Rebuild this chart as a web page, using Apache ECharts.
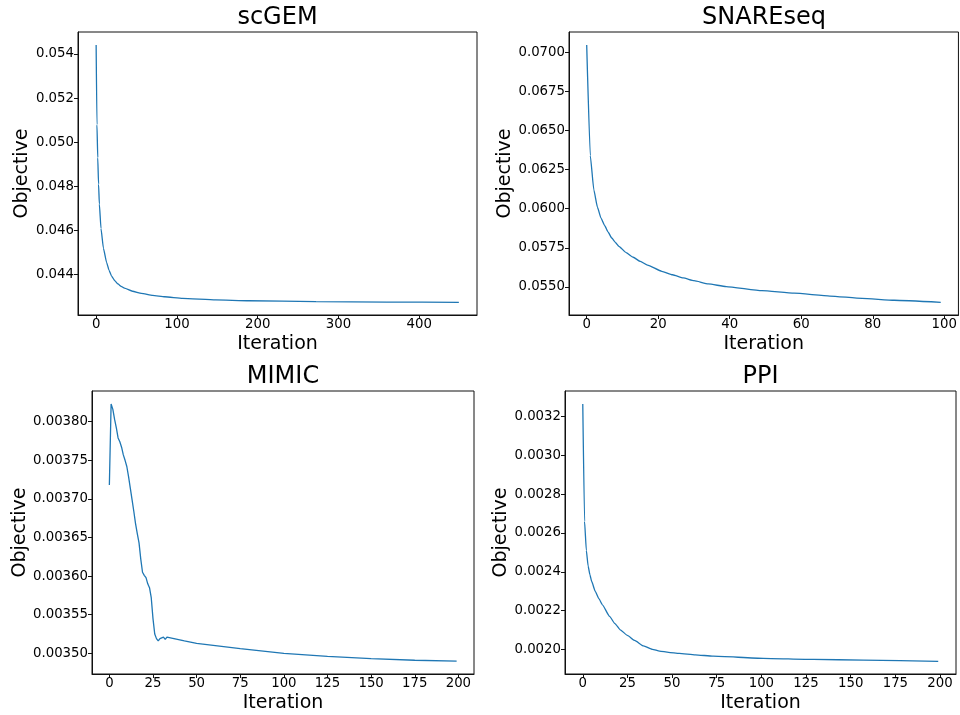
<!DOCTYPE html>
<html>
<head>
<meta charset="utf-8">
<script src="https://cdn.jsdelivr.net/npm/echarts@6/dist/echarts.min.js"></script>
<style>html,body{margin:0;padding:0;background:#fff}#c{width:960px;height:715px}</style>
</head>
<body>
<div id="c"></div>
<script>
// ---- data ----
const titles = ['scGEM', 'SNAREseq', 'MIMIC', 'PPI'];
const xName = 'Iteration';
const yName = 'Objective';

const scgemIter = [0, 1, 2, 3, 4, 6, 9, 13, 16, 19, 23, 27, 31, 35, 45, 56, 70, 85, 107, 148, 189, 272, 360, 449];
const scgemObj  = [0.05441, 0.0508, 0.0493, 0.0481, 0.0472, 0.0461, 0.0452, 0.04455, 0.04420, 0.04395, 0.04373,
                   0.04358, 0.04347, 0.04339, 0.04325, 0.04315, 0.04306, 0.04300, 0.04293, 0.04286, 0.04282,
                   0.04278, 0.04276, 0.04275];

const snareIter = [0, 1, 2, 3, 4, 5, 6, 7, 8, 9, 11, 13, 15, 17, 21, 24, 27, 30, 34, 39, 49, 58, 68, 77, 86, 99];
const snareObj  = [0.07047, 0.0634, 0.0612, 0.0601, 0.0594, 0.05893, 0.0585, 0.05813, 0.05785, 0.0576, 0.05720,
                   0.0569, 0.05663, 0.0564, 0.0560, 0.05578, 0.05558, 0.05540, 0.05520, 0.05502, 0.05476,
                   0.05460, 0.05442, 0.05427, 0.05415, 0.05402];

const mimicIter = [0, 1, 2, 3, 4, 5, 6, 7, 8, 9, 10, 11, 12, 13, 14, 15, 16, 17, 18, 19, 20, 21, 22, 23, 24, 25,
                   26, 27, 28, 29, 30, 31, 32, 33, 35, 43, 50, 75, 100, 125, 150, 175, 199];
const mimicObj  = [0.003718, 0.003823, 0.003816, 0.003803, 0.003792, 0.003779, 0.003774, 0.003767, 0.003757,
                   0.003750, 0.003742, 0.003729, 0.003714, 0.003699, 0.003684, 0.003668, 0.003655, 0.003643,
                   0.003622, 0.003605, 0.003601, 0.003598, 0.003590, 0.003585, 0.003572, 0.003545, 0.003525,
                   0.003519, 0.003516, 0.003519, 0.003521, 0.003521, 0.003518, 0.003521, 0.003520, 0.003516,
                   0.003513, 0.003506, 0.003500, 0.003496, 0.003493, 0.003491, 0.003490];

const ppiIter = [0, 1, 2, 3, 4, 5, 7, 9, 11, 15, 18, 21, 25, 29, 34, 39, 43, 48, 54, 63, 73, 101, 129, 157, 199];
const ppiObj  = [0.003265, 0.00266, 0.00251, 0.00243, 0.002385, 0.00235, 0.002299, 0.002262, 0.00223, 0.00217,
                 0.002133, 0.002101, 0.002072, 0.002046, 0.002018, 0.002000, 0.001991, 0.001985, 0.001979,
                 0.001972, 0.001965, 0.001954, 0.001948, 0.001945, 0.001938];

// tick labels
const scgemXTicks = [0, 100, 200, 300, 400];
const scgemYTicks = [0.044, 0.046, 0.048, 0.050, 0.052, 0.054];
const snareXTicks = [0, 20, 40, 60, 80, 100];
const snareYTicks = [0.0550, 0.0575, 0.0600, 0.0625, 0.0650, 0.0675, 0.0700];
const mimicXTicks = [0, 25, 50, 75, 100, 125, 150, 175, 200];
const mimicYTicks = [0.00350, 0.00355, 0.00360, 0.00365, 0.00370, 0.00375, 0.00380];
const ppiXTicks = [0, 25, 50, 75, 100, 125, 150, 175, 200];
const ppiYTicks = [0.0020, 0.0022, 0.0024, 0.0026, 0.0028, 0.0030, 0.0032];

// ---- layout / style ----
const FONT = 'DejaVu Sans';
const panels = [
  {iter: scgemIter, obj: scgemObj, xt: scgemXTicks, yt: scgemYTicks, dec: 3, smooth: 0.15,
   grid: {left: 78, top: 32, width: 399, height: 283}, xr: [-22.45, 471.45], yr: [0.042174, 0.054997], ygap: 44},
  {iter: snareIter, obj: snareObj, xt: snareXTicks, yt: snareYTicks, dec: 4, smooth: 0.15,
   grid: {left: 569, top: 32, width: 390, height: 283}, xr: [-4.95, 103.95], yr: [0.053208, 0.071298], ygap: 54},
  {iter: mimicIter, obj: mimicObj, xt: mimicXTicks, yt: mimicYTicks, dec: 5, smooth: false,
   grid: {left: 92, top: 391, width: 382, height: 283}, xr: [-9.95, 208.95], yr: [0.0034732, 0.0038398], ygap: 62},
  {iter: ppiIter, obj: ppiObj, xt: ppiXTicks, yt: ppiYTicks, dec: 4, smooth: 0.15,
   grid: {left: 565, top: 391, width: 391, height: 283}, xr: [-9.95, 208.95], yr: [0.001873, 0.0033325], ygap: 53.5}
];

const grid = [], xAxis = [], yAxis = [], series = [], graphic = [];
panels.forEach((p, i) => {
  grid.push(Object.assign({show: true, borderColor: '#111', borderWidth: 1, backgroundColor: 'transparent'}, p.grid));
  const tickStyle = {show: true, inside: false, length: 4, lineStyle: {color: '#111', width: 1}};
  xAxis.push({
    type: 'value', gridIndex: i, min: p.xr[0], max: p.xr[1],
    name: xName, nameLocation: 'middle', nameGap: 20,
    nameTextStyle: {fontFamily: FONT, fontSize: 19, color: '#000', lineHeight: 19},
    axisLine: {show: true, onZero: false, lineStyle: {color: '#111', width: 1}},
    axisTick: Object.assign({customValues: p.xt}, tickStyle),
    axisLabel: {customValues: p.xt, margin: 3, fontFamily: FONT, fontSize: 13.3, color: '#000', lineHeight: 14,
                formatter: v => String(Math.round(v))},
    splitLine: {show: false}
  });
  yAxis.push({
    type: 'value', gridIndex: i, min: p.yr[0], max: p.yr[1],
    name: yName, nameLocation: 'middle', nameGap: p.ygap, nameRotate: 90,
    nameTextStyle: {fontFamily: FONT, fontSize: 19, color: '#000', lineHeight: 19},
    axisLine: {show: true, onZero: false, lineStyle: {color: '#111', width: 1}},
    axisTick: Object.assign({customValues: p.yt}, tickStyle),
    axisLabel: {customValues: p.yt, margin: 4, fontFamily: FONT, fontSize: 13.3, color: '#000',
                formatter: v => Number(v).toFixed(p.dec)},
    splitLine: {show: false}
  });
  series.push({
    type: 'line', xAxisIndex: i, yAxisIndex: i, showSymbol: false, symbol: 'none',
    smooth: p.smooth, smoothMonotone: 'x',
    lineStyle: {color: '#1f77b4', width: 1.3}, itemStyle: {color: '#1f77b4'},
    data: p.iter.map((x, k) => [x, p.obj[k]]), animation: false
  });
  graphic.push({
    type: 'text', x: p.grid.left + p.grid.width / 2, y: p.grid.top - 14,
    style: {text: titles[i], fontFamily: FONT, fontSize: 24, fill: '#000', textAlign: 'center', textVerticalAlign: 'middle'}
  });
});

const chart = echarts.init(document.getElementById('c'), null, {renderer: 'canvas'});
chart.setOption({animation: false, grid, xAxis, yAxis, series, graphic});
</script>
</body>
</html>
